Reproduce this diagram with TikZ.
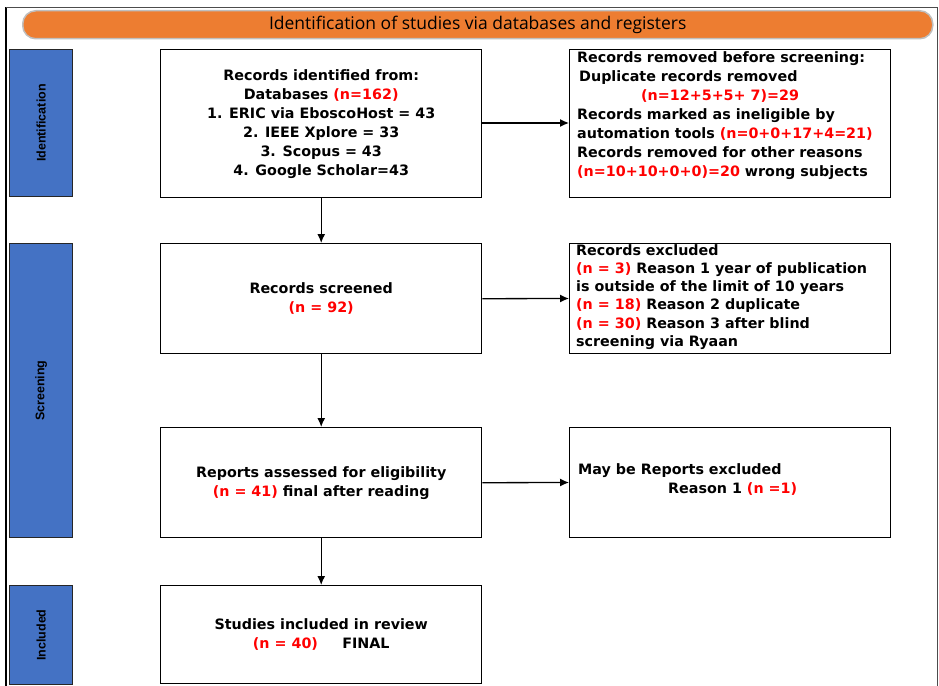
\documentclass[tikz,border=0pt]{standalone}
\usepackage{fontspec}
\setmainfont{Open Sans}
\setsansfont{Liberation Sans}
\newfontfamily\boxfont{DejaVu Sans}
\usetikzlibrary{calc,arrows.meta}
\definecolor{orng}{RGB}{237,125,49}
\definecolor{blu}{RGB}{68,114,196}
\newcommand{\rn}[1]{\textcolor{red}{#1}}
\begin{document}
\begin{tikzpicture}[x=1pt,y=-1pt,
  box/.style={draw, line width=1.4pt, anchor=north west, minimum width=321pt, inner sep=0pt,
    align=center, font=\boxfont\bfseries\fontsize{14.3}{19}\selectfont},
  rbox/.style={draw, line width=1pt, anchor=north west, minimum width=321pt, inner sep=0pt},
  rtext/.style={anchor=north west, inner sep=0pt, align=left, font=\boxfont\bfseries\fontsize{14.3}{19}\selectfont},
  phase/.style={draw=black!85, line width=1.2pt, fill=blu, anchor=north west, minimum width=63pt, inner sep=0pt},
  phaselabel/.style={rotate=90, font=\sffamily\bfseries\fontsize{12.5}{14}\selectfont},
  arr/.style={-{Latex[length=9pt,width=8pt]}, line width=1.3pt}]
\useasboundingbox (0,0) rectangle (939,685);
% outer frame
\draw[line width=2pt] (6,686) -- (6,7);
\draw[line width=0.8pt, black!70] (6,7) -- (937,7) -- (937,686);
% title bar
\node[draw=black!25, line width=1.5pt, fill=orng, rounded corners=13pt, anchor=north west,
  minimum width=910pt, minimum height=28pt, inner sep=0pt] (title) at (22,10)
  {\fontsize{17.5}{20}\selectfont Identification of studies via databases and registers};
% phase boxes
\node[phase, minimum height=147pt] (pid) at (9,49) {};
\node[phaselabel] at (pid.center) {Identification};
\node[phase, minimum height=294pt] (psc) at (9,243) {};
\node[phaselabel] at (psc.center) {Screening};
\node[phase, minimum height=99pt] (pin) at (9,585) {};
\node[phaselabel] at (pin.center) {Included};
% main boxes
\node[box, minimum height=148pt] (rid) at (160,49) {Records identified from:\\
  Databases \rn{(n=162)}\\
  1. ERIC via EboscoHost = 43\\
  2. IEEE Xplore = 33\\
  3. Scopus = 43\\
  4. Google Scholar=43};
\node[box, minimum height=110pt] (rsc) at (160,243) {Records screened\\ \rn{(n = 92)}};
\node[box, minimum height=110pt] (ras) at (160,427) {Reports assessed for eligibility\\ \rn{(n = 41)} final after reading};
\node[box, minimum height=98pt] (rin) at (160,585) {Studies included in review\\ \rn{(n = 40)}\quad\ \ FINAL};
% right boxes
\node[rbox, minimum height=148pt] (rem) at (569,49) {};
\node[rtext] (remt) at ($(rem.north west)+(8,2)$) {Records removed before screening:\\
  \hspace*{2pt}Duplicate records removed\\
  \hspace*{64pt}\rn{(n=12+5+5+ 7)=29}\\
  Records marked as ineligible by\\
  automation tools \rn{(n=0+0+17+4=21)}\\
  Records removed for other reasons\\
  \rn{(n=10+10+0+0)=20} wrong subjects};
\node[rbox, minimum height=110pt] (rex) at (569,243) {};
\node[rtext, font=\boxfont\bfseries\fontsize{14.3}{18.3}\selectfont] (rext) at ($(rex.north west)+(7,1)$) {Records excluded\\
  \rn{(n = 3)} Reason 1 year of publication\\
  is outside of the limit of 10 years\\
  \rn{(n = 18)} Reason 2 duplicate\\
  \rn{(n = 30)} Reason 3 after blind\\
  screening via Ryaan};
\node[rbox, minimum height=110pt] (rmb) at (569,427) {};
\node[rtext] (rmbt) at ($(rmb.west)+(9,-19)$) {May be Reports excluded\\
  \hspace*{90pt}Reason 1 \rn{(n =1)}};
% connectors
\draw[arr] (rid.east |- 0,123) -- (rem.west |- 0,123);
\draw[arr] (rid.south) -- (rsc.north);
\draw[arr] (rsc.east) -- (rex.west);
\draw[arr] (rsc.south) -- (ras.north);
\draw[arr] (ras.east) -- (rmb.west);
\draw[arr] (ras.south) -- (rin.north);
\end{tikzpicture}
\end{document}
